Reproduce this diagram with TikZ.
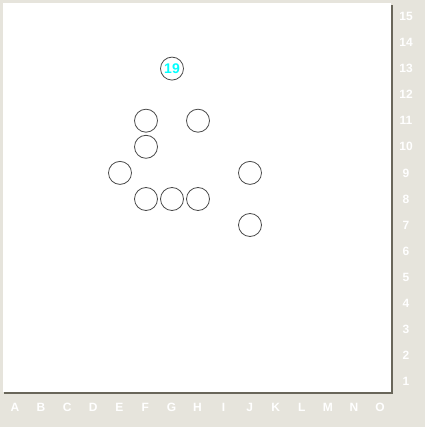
\documentclass[tikz,border=0pt]{standalone}
\usepackage{fontspec}
\setmainfont{Liberation Sans}
\definecolor{bgpat}{RGB}{230,228,220}
\definecolor{shadowc}{RGB}{105,102,90}
\definecolor{stonec}{RGB}{75,75,75}
\definecolor{numc}{RGB}{0,255,255}
\begin{document}
\begin{tikzpicture}[x=1pt,y=-1pt,
  stone/.style={circle,draw=stonec,line width=0.8pt,fill=white,minimum size=23pt,inner sep=0pt},
  coordlbl/.style={text=white,font=\bfseries\fontsize{12}{12}\selectfont,inner sep=0pt},
  numlbl/.style={text=numc,font=\bfseries\fontsize{14}{14}\selectfont}]
\useasboundingbox (0,0) rectangle (425,427);
\fill[bgpat] (0,0) rectangle (425,427);
% board shadow
\fill[shadowc] (4,5) rectangle (392.5,393.5);
\fill[white] (3,3) rectangle (390.5,391.5);
% labels
\foreach \l [count=\i from 0] in {A,B,C,D,E,F,G,H,I,J,K,L,M,N,O}
  \node[coordlbl] (col\l) at ({15+26.07*\i},407.5) {\l};
\foreach \r in {1,...,15}
  \node[coordlbl] (row\r) at (406,{16.5+26.07*(15-\r)}) {\r};
% stones
\node[stone,numlbl] (g13) at (172,68.6) {19};
\node[stone] (f11) at (146,120.7) {};
\node[stone] (h11) at (198,120.7) {};
\node[stone] (f10) at (146,146.8) {};
\node[stone] (e9) at (120,172.9) {};
\node[stone] (k9) at (250,172.9) {};
\node[stone] (f8) at (146,199) {};
\node[stone] (g8) at (172,199) {};
\node[stone] (h8) at (198,199) {};
\node[stone] (k7) at (250,225) {};
\end{tikzpicture}
\end{document}
